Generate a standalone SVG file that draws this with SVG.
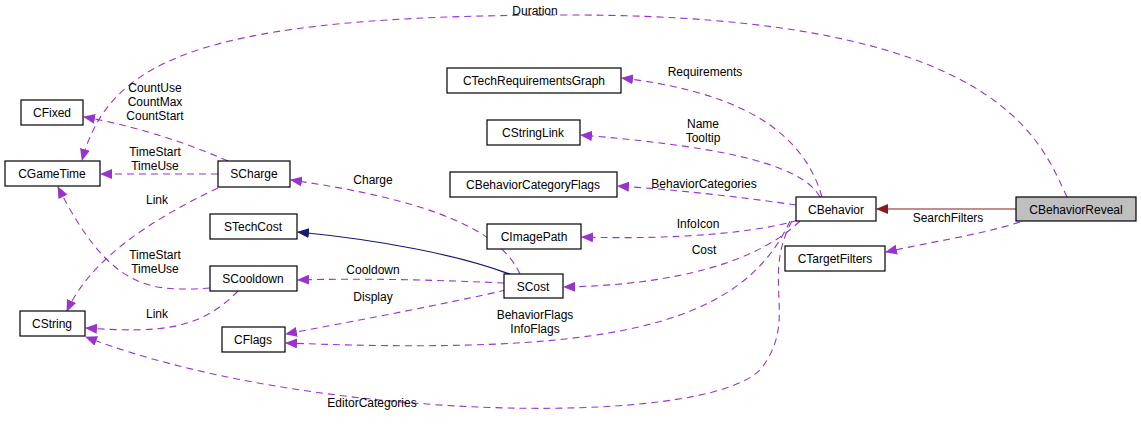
<svg xmlns="http://www.w3.org/2000/svg" width="1141" height="435" viewBox="0 0 1141 435">
<style>
.n rect{fill:#fff;stroke:#000;stroke-width:1.2}
.n text,.l{font-family:"Liberation Sans",Arial,sans-serif;font-size:12px;fill:#000}
.n text{text-anchor:middle}
.l{text-anchor:middle}
.d{fill:none;stroke:#9a32cd;stroke-dasharray:7,5;stroke-width:1.1;marker-end:url(#ap)}
</style>
<defs>
<marker id="ap" markerWidth="12" markerHeight="10" refX="11" refY="5" orient="auto" markerUnits="userSpaceOnUse"><path d="M0,0L12,5L0,10z" fill="#9a32cd"/></marker>
<marker id="ar" markerWidth="12" markerHeight="10" refX="11" refY="5" orient="auto" markerUnits="userSpaceOnUse"><path d="M0,0L12,5L0,10z" fill="#8b1a1a"/></marker>
<marker id="an" markerWidth="12" markerHeight="10" refX="11" refY="5" orient="auto" markerUnits="userSpaceOnUse"><path d="M0,0L12,5L0,10z" fill="#191970"/></marker>
</defs>
<rect width="1141" height="435" fill="#fff"/>
<g id="connectors">
<path class="d" d="M1067,197 C1040,140 1000,15 570,15 C200,15 110,60 82,160"/>
<path class="d" d="M822,197 C800,120 720,90 622,78"/>
<path class="d" d="M820,197 C800,160 700,145 581,135"/>
<path class="d" d="M796,205 C740,197 680,190 618,186"/>
<path class="d" d="M798,220 C760,232 680,240 582,237"/>
<path class="d" d="M800,221 C760,260 680,285 564,287"/>
<path class="d" d="M790,221 C740,330 600,355 286,343"/>
<path class="d" d="M792,221 C760,280 800,320 760,370 C700,430 300,420 86,337"/>
<path class="d" d="M1020,222 C980,235 930,242 886,252"/>
<path d="M1016,209L877,209" stroke="#8b1a1a" stroke-width="1.2" marker-end="url(#ar)"/>
<path class="d" d="M520,274 C500,230 430,200 291,180"/>
<path d="M512,275 C460,255 380,240 298,232" fill="none" stroke="#191970" stroke-width="1.2" marker-end="url(#an)"/>
<path class="d" d="M504,283 C440,280 360,278 298,280"/>
<path class="d" d="M506,290 C440,305 360,320 286,334"/>
<path class="d" d="M228,161 C180,140 130,125 84,117"/>
<path class="d" d="M218,174L101,174"/>
<path class="d" d="M218,188 C150,220 90,260 67,311"/>
<path class="d" d="M210,288 C150,292 110,290 58,187"/>
<path class="d" d="M238,291 C200,330 160,333 86,328"/>
</g>
<g class="l">
<text class="l" x="535" y="15">Duration</text>
<text class="l" x="705" y="76">Requirements</text>
<text class="l" x="703" y="128">Name</text><text class="l" x="703" y="142">Tooltip</text>
<text class="l" x="704" y="188">BehaviorCategories</text>
<text class="l" x="698" y="228">InfoIcon</text>
<text class="l" x="704" y="254">Cost</text>
<text class="l" x="535" y="319">BehaviorFlags</text><text class="l" x="535" y="333">InfoFlags</text>
<text class="l" x="372" y="407">EditorCategories</text>
<text class="l" x="948" y="222">SearchFilters</text>
<text class="l" x="373" y="184">Charge</text>
<text class="l" x="373" y="274">Cooldown</text>
<text class="l" x="373" y="301">Display</text>
<text class="l" x="155" y="92">CountUse</text><text class="l" x="155" y="106">CountMax</text><text class="l" x="155" y="120">CountStart</text>
<text class="l" x="155" y="156">TimeStart</text><text class="l" x="155" y="170">TimeUse</text>
<text class="l" x="157" y="204">Link</text>
<text class="l" x="155" y="259">TimeStart</text><text class="l" x="155" y="273">TimeUse</text>
<text class="l" x="157" y="318">Link</text>
</g>
<g id="CFixed" class="n"><rect x="21" y="100" width="62" height="25"/><text x="52" y="117">CFixed</text></g>
<g id="CGameTime" class="n"><rect x="5" y="161" width="95" height="25"/><text x="52" y="178">CGameTime</text></g>
<g id="CString" class="n"><rect x="20" y="311" width="65" height="25"/><text x="52" y="328">CString</text></g>
<g id="SCharge" class="n"><rect x="218" y="161" width="72" height="26"/><text x="254" y="178">SCharge</text></g>
<g id="STechCost" class="n"><rect x="210" y="214" width="87" height="25"/><text x="253" y="231">STechCost</text></g>
<g id="SCooldown" class="n"><rect x="210" y="266" width="87" height="25"/><text x="253" y="283">SCooldown</text></g>
<g id="CFlags" class="n"><rect x="222" y="327" width="63" height="25"/><text x="253" y="344">CFlags</text></g>
<g id="CTechRequirementsGraph" class="n"><rect x="447" y="68" width="174" height="25"/><text x="534" y="85">CTechRequirementsGraph</text></g>
<g id="CStringLink" class="n"><rect x="487" y="120" width="93" height="25"/><text x="533" y="137">CStringLink</text></g>
<g id="CBehaviorCategoryFlags" class="n"><rect x="450" y="172" width="167" height="25"/><text x="533" y="189">CBehaviorCategoryFlags</text></g>
<g id="CImagePath" class="n"><rect x="487" y="224" width="94" height="25"/><text x="534" y="241">CImagePath</text></g>
<g id="SCost" class="n"><rect x="504" y="274" width="59" height="24"/><text x="533" y="291">SCost</text></g>
<g id="CBehavior" class="n"><rect x="796" y="197" width="80" height="24"/><text x="836" y="214">CBehavior</text></g>
<g id="CBehaviorReveal" class="n"><rect x="1016" y="197" width="120" height="24" style="fill:#bfbfbf"/><text x="1076" y="214">CBehaviorReveal</text></g>
<g id="CTargetFilters" class="n"><rect x="785" y="246" width="100" height="25"/><text x="835" y="263">CTargetFilters</text></g>
</svg>
